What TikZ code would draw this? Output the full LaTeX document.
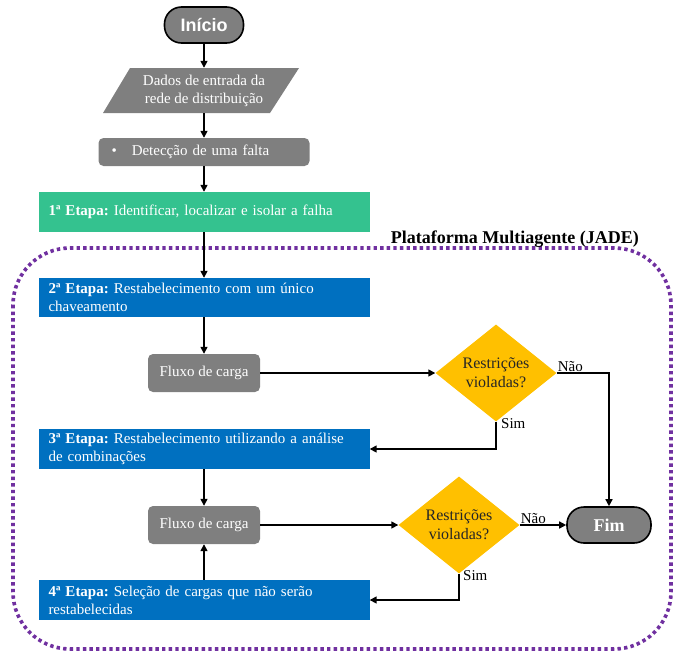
\documentclass[tikz,border=0pt]{standalone}
\usepackage{fontspec}
\setmainfont{Liberation Serif}
\newfontfamily\headsans{Liberation Sans}
\usetikzlibrary{shapes.geometric,arrows.meta}
\definecolor{boxgray}{RGB}{127,127,127}
\definecolor{stepgreen}{RGB}{52,194,143}
\definecolor{stepblue}{RGB}{0,112,192}
\definecolor{decyellow}{RGB}{255,192,0}
\definecolor{framepurple}{RGB}{112,48,160}
\frenchspacing

\begin{document}
\begin{tikzpicture}[x=1pt,y=-1pt,
  txt/.style={font=\fontsize{15}{18}\selectfont},
  terminal/.style={draw=black, line width=1.6pt, fill=boxgray, rounded corners=17pt,
    minimum height=36pt, text=white, inner sep=0pt},
  graybox/.style={txt, fill=boxgray, rounded corners=5pt, text=white, inner sep=0pt},
  stepbox/.style={txt, text=white, minimum width=331pt, text width=311pt,
    inner xsep=10pt, inner ysep=0pt, align=left, minimum height=40pt},
  decision/.style={diamond, fill=decyellow, font=\fontsize{16}{19}\selectfont,
    align=center, inner sep=0pt, minimum width=121pt, minimum height=97pt, text=black!85},
  link/.style={line width=1.5pt, -{Triangle[length=7pt,width=7pt]}},
  lbl/.style={txt, inner sep=0pt}
]
\useasboundingbox (0,0) rectangle (677,651);

% multi-agent platform frame
\draw[framepurple, line width=3.6pt, dash pattern=on 3.4pt off 3.2pt, rounded corners=57pt]
  (13,248) rectangle (671,649);
\node[font=\bfseries\fontsize{18}{20}\selectfont, anchor=base east, inner sep=0pt]
  (platlabel) at (639,243) {Plataforma Multiagente (JADE)};

% start and input data
\node[terminal, minimum width=79pt, font=\headsans\bfseries\fontsize{18}{20}\selectfont]
  (inicio) at (204,25) {Início};
\fill[boxgray] (103,113) -- (130,68) -- (299,68) -- (270,113) -- cycle;
\node[txt, text=white, align=center, minimum height=45pt, inner sep=0pt]
  (dados) at (204,90.5) {Dados de entrada da\\rede de distribuição};

\node[graybox, minimum width=211pt, minimum height=28pt, text width=185pt,
  inner xsep=13pt, align=left] (detec) at (204,152)
  {•\hspace{15pt}Detecção de uma falta};

% stages
\node[stepbox, fill=stepgreen] (etapa1) at (204,212)
  {\textbf{1ª Etapa:} Identificar, localizar e isolar a falha};
\node[stepbox, fill=stepblue, minimum height=39pt] (etapa2) at (204,297.5)
  {\textbf{2ª Etapa:} Restabelecimento com um único\\chaveamento};
\node[graybox, minimum width=112pt, minimum height=38pt] (fluxo1) at (204,373) {Fluxo de carga};
\node[decision] (dec1) at (496,373) {Restrições\\violadas?};

\node[stepbox, fill=stepblue] (etapa3) at (204,449)
  {\textbf{3ª Etapa:} Restabelecimento utilizando a análise\\de combinações};
\node[graybox, minimum width=112pt, minimum height=38pt] (fluxo2) at (204,525) {Fluxo de carga};
\node[decision] (dec2) at (459,525) {Restrições\\violadas?};

\node[terminal, minimum width=84pt, font=\bfseries\fontsize{18}{20}\selectfont]
  (fim) at (609,525) {Fim};

\node[stepbox, fill=stepblue] (etapa4) at (204,600)
  {\textbf{4ª Etapa:} Seleção de cargas que não serão\\restabelecidas};

% connectors
\draw[link] (inicio) -- (dados);
\draw[link] (dados) -- (detec);
\draw[link] (detec) -- (etapa1);
\draw[link] (etapa1) -- (etapa2);
\draw[link] (etapa2) -- (fluxo1);
\draw[link] (fluxo1) -- (dec1);
\draw[link] (dec1.east) -| (fim.north);
\draw[link] (dec1.south) |- (etapa3.east);
\draw[link] (etapa3) -- (fluxo2);
\draw[link] (fluxo2) -- (dec2);
\draw[link] (dec2.east) -- (fim.west);
\draw[link] (dec2.south) |- (etapa4.east);
\draw[link] (etapa4) -- (fluxo2);

% branch labels
\node[lbl, anchor=base west] (nao1) at ([xshift=1pt,yshift=2pt]dec1.east) {Não};
\node[lbl, anchor=north west] (sim1) at ([xshift=5pt,yshift=3pt]dec1.south) {Sim};
\node[lbl, anchor=base west] (nao2) at ([xshift=1pt,yshift=2pt]dec2.east) {Não};
\node[lbl, anchor=north west] (sim2) at ([xshift=4pt,yshift=3pt]dec2.south) {Sim};
\end{tikzpicture}
\end{document}
